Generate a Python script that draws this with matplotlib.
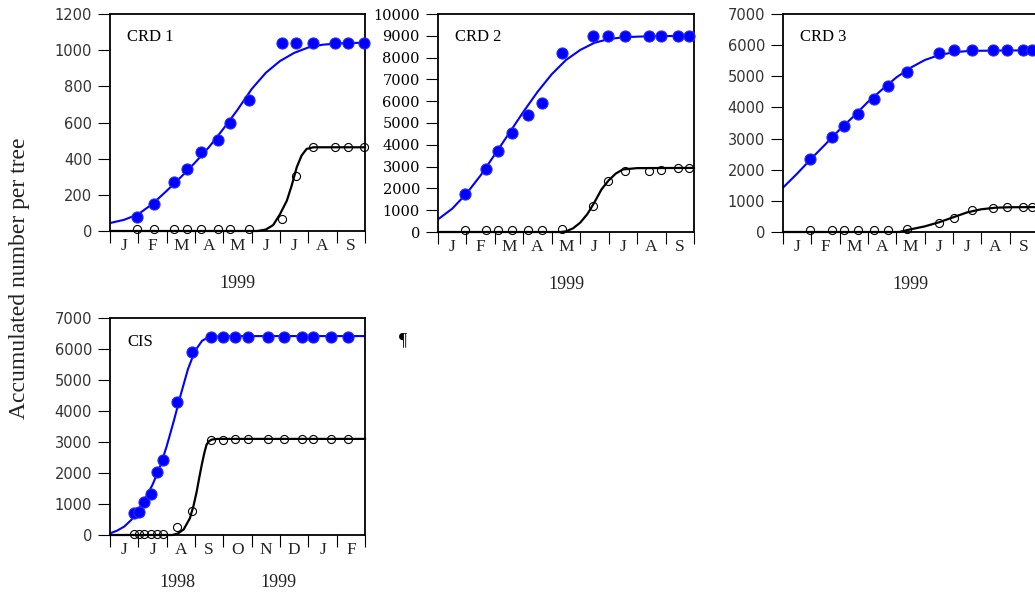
import numpy as np
import matplotlib
matplotlib.use('Agg')
import matplotlib.pyplot as plt

# x is in months: 0 = start of the first month shown, 1 unit per month
months_99 = ['J', 'F', 'M', 'A', 'M', 'J', 'J', 'A', 'S']
months_cis = ['J', 'J', 'A', 'S', 'O', 'N', 'D', 'J', 'F']

# CRD 1
crd1_x = [0.94, 1.56, 2.27, 2.71, 3.21, 3.80, 4.24, 4.92, 6.06, 6.56, 7.18, 7.94, 8.41, 8.96]
crd1_blue = [80, 150, 270, 345, 435, 505, 600, 725, 1040, 1040, 1040, 1040, 1040, 1040]
crd1_black = [10, 10, 10, 10, 10, 10, 10, 10, 65, 305, 463, 463, 463, 463]
crd1_fit_x = [0, 0.5, 1, 1.5, 2, 2.5, 3, 3.5, 4, 4.5, 5, 5.5, 6, 6.5, 7, 7.5, 8, 8.5, 9]
crd1_fit_blue = [44, 62, 93, 150, 222, 298, 378, 465, 565, 670, 785, 875, 940, 985, 1015, 1030, 1037, 1040, 1041]
crd1_fit2_x = [0, 5.2, 5.5, 5.76, 6.0, 6.24, 6.41, 6.59, 6.76, 6.94, 7.18, 9]
crd1_fit_black = [0, 0, 8, 33, 93, 167, 250, 352, 417, 454, 463, 463]

# CRD 2
crd2_x = [0.94, 1.68, 2.12, 2.61, 3.18, 3.67, 4.35, 5.45, 5.96, 6.56, 7.41, 7.85, 8.44, 8.82]
crd2_blue = [1730, 2880, 3720, 4560, 5360, 5930, 8190, 8990, 8990, 8990, 8990, 8990, 8990, 8990]
crd2_black = [80, 80, 80, 80, 80, 80, 120, 1190, 2340, 2800, 2800, 2860, 2940, 2940]
crd2_fit_x = [0, 0.5, 1, 1.5, 2, 2.5, 3, 3.5, 4, 4.5, 5, 5.5, 6, 6.5, 7, 7.5, 8, 8.5, 9]
crd2_fit_blue = [580, 1070, 1760, 2600, 3560, 4530, 5510, 6430, 7240, 7890, 8350, 8680, 8850, 8930, 8960, 8980, 8990, 8990, 8990]
crd2_fit2_x = [0, 4.3, 4.5, 4.75, 5, 5.25, 5.5, 5.75, 6, 6.25, 6.5, 7, 9]
crd2_fit_black = [0, 0, 30, 170, 430, 820, 1360, 1960, 2370, 2680, 2870, 2930, 2940]

# CRD 3
crd3_x = [0.96, 1.73, 2.16, 2.64, 3.22, 3.71, 4.38, 5.49, 6.04, 6.67, 7.41, 7.91, 8.47, 8.79]
crd3_blue = [2360, 3055, 3410, 3775, 4255, 4685, 5140, 5750, 5840, 5840, 5840, 5840, 5840, 5840]
crd3_black = [50, 50, 50, 50, 50, 50, 90, 280, 440, 700, 760, 795, 795, 795]
crd3_fit_x = [0, 0.5, 1, 1.5, 2, 2.5, 3, 3.5, 4, 4.5, 5, 5.5, 6, 6.5, 7, 7.5, 8, 8.5, 9]
crd3_fit_blue = [1425, 1875, 2358, 2819, 3290, 3719, 4180, 4577, 4963, 5273, 5520, 5680, 5766, 5810, 5820, 5825, 5830, 5830, 5830]
crd3_fit2_x = [0, 4.1, 4.5, 5, 5.5, 6, 6.5, 7, 7.5, 8, 9]
crd3_fit_black = [0, 0, 85, 180, 310, 470, 630, 730, 780, 795, 800]

# CIS (June 1998 - Feb 1999)
cis_x = [0.86, 1.02, 1.21, 1.45, 1.67, 1.88, 2.38, 2.88, 3.55, 3.98, 4.41, 4.88, 5.59, 6.14, 6.76, 7.18, 7.79, 8.41]
cis_blue = [700, 735, 1080, 1320, 2020, 2430, 4290, 5890, 6395, 6395, 6395, 6395, 6395, 6395, 6395, 6395, 6395, 6395]
cis_black = [40, 40, 40, 40, 40, 40, 270, 760, 3050, 3080, 3100, 3100, 3100, 3100, 3100, 3100, 3100, 3100]
cis_fit_x = [0, 0.25, 0.5, 0.75, 1, 1.25, 1.5, 1.75, 2, 2.25, 2.5, 2.75, 3, 3.25, 3.5, 4, 9]
cis_fit_blue = [54, 140, 270, 486, 810, 1188, 1620, 2160, 2862, 3672, 4537, 5347, 5940, 6265, 6395, 6417, 6417]
cis_fit2_x = [0, 2.2, 2.4, 2.6, 2.82, 2.95, 3.06, 3.15, 3.24, 3.33, 3.41, 3.5, 3.6, 3.8, 9]
cis_fit_black = [0, 0, 50, 180, 540, 950, 1400, 1850, 2270, 2650, 2920, 3030, 3080, 3100, 3100]

BLUE = '#0000ff'
SERIF = 'Liberation Serif'


def setup_axis(ax, ymax, ystep, months, serif_ticks=False):
    ax.set_xlim(0, 9)
    ax.set_ylim(0, ymax)
    ax.set_yticks(np.arange(0, ymax + 1, ystep))
    ax.set_xticks(np.arange(0, 10))
    ax.set_xticklabels([])
    ax.set_xticks(np.arange(0.5, 9), minor=True)
    ax.set_xticklabels(months, minor=True, fontfamily=SERIF, fontsize=12.5, color='#222222')
    ax.tick_params(axis='x', which='major', direction='out', length=8.5, width=0.8)
    ax.tick_params(axis='x', which='minor', length=0, pad=5)
    ax.tick_params(axis='y', direction='out', length=9, width=0.8, pad=4)
    for lab in ax.get_yticklabels():
        if serif_ticks:
            lab.set_fontfamily('DejaVu Serif')
            lab.set_color('black')
        else:
            lab.set_fontfamily('DejaVu Sans')
            lab.set_color('#333333')
        lab.set_fontsize(10.5)
    for s in ax.spines.values():
        s.set_linewidth(1.3)


def draw_panel(ax, x, blue, black, fx, fblue, fx2, fblack):
    ax.plot(fx, fblue, color=BLUE, lw=1.5, zorder=2)
    ax.plot(fx2, fblack, color='black', lw=1.6, zorder=2, clip_on=False)
    ax.plot(x, blue, 'o', color=BLUE, ms=8, mec='#2a2aff', mew=0.8, zorder=3, clip_on=False)
    ax.plot(x, black, 'o', mfc='none', mec='black', ms=5.8, mew=0.8, zorder=4, clip_on=False)


fig = plt.figure(figsize=(10.35, 5.96), dpi=100)
W, H = 1035.0, 596.0

def add_axes(left, top, right, bottom):
    return fig.add_axes([left / W, 1 - bottom / H, (right - left) / W, (bottom - top) / H])

ax1 = add_axes(110, 14, 365, 231)
ax2 = add_axes(438, 14, 694, 232)
ax3 = add_axes(783, 14, 1038, 232)
ax4 = add_axes(110, 318, 365, 535)

draw_panel(ax1, crd1_x, crd1_blue, crd1_black, crd1_fit_x, crd1_fit_blue, crd1_fit2_x, crd1_fit_black)
setup_axis(ax1, 1200, 200, months_99)
draw_panel(ax2, crd2_x, crd2_blue, crd2_black, crd2_fit_x, crd2_fit_blue, crd2_fit2_x, crd2_fit_black)
setup_axis(ax2, 10000, 1000, months_99, serif_ticks=True)
draw_panel(ax3, crd3_x, crd3_blue, crd3_black, crd3_fit_x, crd3_fit_blue, crd3_fit2_x, crd3_fit_black)
setup_axis(ax3, 7000, 1000, months_99)
draw_panel(ax4, cis_x, cis_blue, cis_black, cis_fit_x, cis_fit_blue, cis_fit2_x, cis_fit_black)
setup_axis(ax4, 7000, 1000, months_cis)

for ax, name in [(ax1, 'CRD 1'), (ax2, 'CRD 2'), (ax3, 'CRD 3')]:
    ax.text(0.067, 0.894, name, transform=ax.transAxes, fontfamily=SERIF,
            fontsize=12, va='center', ha='left')
    ax.text(0.5, -0.24, '1999', transform=ax.transAxes, fontfamily=SERIF,
            fontsize=13, va='center', ha='center', color='#222222')

ax4.text(0.067, 0.889, 'CIS', transform=ax4.transAxes, fontfamily=SERIF,
         fontsize=12, va='center', ha='left')
ax4.text(0.263, -0.217, '1998', transform=ax4.transAxes, fontfamily=SERIF,
         fontsize=13, va='center', ha='center', color='#222222')
ax4.text(0.659, -0.217, '1999', transform=ax4.transAxes, fontfamily=SERIF,
         fontsize=13, va='center', ha='center', color='#222222')

fig.text(20 / W, 1 - 278 / H, 'Accumulated number per tree', rotation=90,
         fontfamily=SERIF, fontsize=17, va='center', ha='center', color='#222222')
fig.text(403 / W, 1 - 341 / H, '\u00b6', fontfamily=SERIF, fontsize=13,
         va='center', ha='center')

fig.savefig('out.png', dpi=100)
